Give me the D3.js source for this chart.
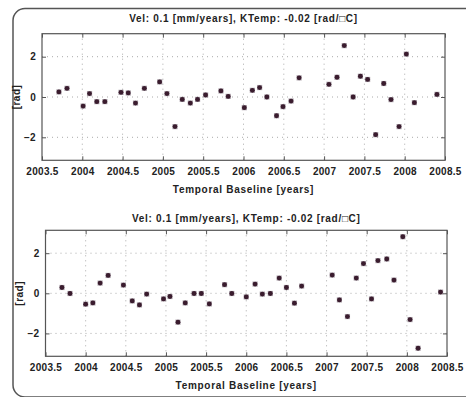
<!DOCTYPE html>
<html><head><meta charset="utf-8">
<script src="https://cdn.jsdelivr.net/npm/d3@7"></script>
<style>body{margin:0;background:#fff}svg{display:block}text{font-family:"Liberation Sans",Arial,sans-serif;font-weight:bold;fill:#222}</style>
</head><body>
<script>
const titleText = "Vel: 0.1 [mm/years], KTemp: -0.02 [rad/\u25A1C]";
const xLabelText = "Temporal Baseline [years]";
const yLabelText = "[rad]";
const xTicks = [2003.5, 2004, 2004.5, 2005, 2005.5, 2006, 2006.5, 2007, 2007.5, 2008, 2008.5];
const yTicks = [-2, 0, 2];

const years1 = [2003.71,2003.81,2004.01,2004.09,2004.18,2004.28,2004.48,2004.57,2004.66,2004.77,2004.96,2005.05,2005.15,2005.24,2005.34,2005.43,2005.53,2005.72,2005.81,2006.01,2006.11,2006.20,2006.29,2006.41,2006.49,2006.59,2006.69,2007.06,2007.16,2007.25,2007.36,2007.45,2007.54,2007.64,2007.74,2007.83,2007.93,2008.02,2008.12,2008.40];
const phase1 = [0.25,0.43,-0.45,0.17,-0.23,-0.23,0.23,0.2,-0.3,0.43,0.75,0.17,-1.47,-0.12,-0.3,-0.12,0.1,0.3,0.03,-0.53,0.33,0.47,0.0,-0.93,-0.48,-0.2,0.95,0.63,0.98,2.55,0.0,1.03,0.87,-1.87,0.67,-0.13,-1.47,2.13,-0.28,0.13];

const years2 = [2003.705,2003.805,2004.0,2004.09,2004.18,2004.28,2004.47,2004.58,2004.67,2004.76,2004.97,2005.05,2005.15,2005.24,2005.35,2005.44,2005.54,2005.73,2005.82,2006.0,2006.11,2006.20,2006.30,2006.41,2006.50,2006.60,2006.69,2007.07,2007.16,2007.26,2007.37,2007.46,2007.56,2007.64,2007.75,2007.84,2007.95,2008.04,2008.14,2008.42];
const phase2 = [0.29,-0.01,-0.54,-0.48,0.51,0.89,0.41,-0.38,-0.58,-0.04,-0.28,-0.16,-1.44,-0.48,-0.01,-0.01,-0.53,0.43,-0.01,-0.18,0.46,-0.04,-0.01,0.76,0.29,-0.49,0.36,0.91,-0.33,-1.16,0.76,1.48,-0.28,1.63,1.71,0.66,2.82,-1.31,-2.74,0.06];

const W = 466, H = 397;
const svg = d3.select("body").append("svg").attr("width", W).attr("height", H);

// outer rounded frame
svg.append("rect").attr("x", 13).attr("y", 8.5).attr("width", 480).attr("height", 388.5)
  .attr("rx", 12).attr("fill", "none").attr("stroke", "#555").attr("stroke-width", 1.5);

function panel(years, phase, xr, yr, layout) {
  const x = d3.scaleLinear().domain([2003.5, 2008.5]).range(xr);
  const y = d3.scaleLinear().domain([-Math.PI, Math.PI]).range(yr);
  const g = svg.append("g");
  // grid
  g.selectAll(".gx").data(xTicks.slice(1, -1)).join("line")
    .attr("x1", d => x(d)).attr("x2", d => x(d)).attr("y1", yr[1]).attr("y2", yr[0])
    .attr("stroke", "#aaa").attr("stroke-width", 1).attr("stroke-dasharray", "1,4");
  g.selectAll(".gy").data(yTicks).join("line")
    .attr("x1", xr[0]).attr("x2", xr[1]).attr("y1", d => y(d)).attr("y2", d => y(d))
    .attr("stroke", "#aaa").attr("stroke-width", 1).attr("stroke-dasharray", "1,4");
  // axes (ticks inside)
  const xb = d3.axisBottom(x).tickValues(xTicks).tickSizeInner(-4).tickSizeOuter(0).tickPadding(8).tickFormat(d3.format(""));
  const xt = d3.axisTop(x).tickValues(xTicks).tickSizeInner(-4).tickSizeOuter(0).tickFormat("");
  const yl = d3.axisLeft(y).tickValues(yTicks).tickSizeInner(-4).tickSizeOuter(0).tickPadding(6).tickFormat(d3.format("d"));
  const yrA = d3.axisRight(y).tickValues(yTicks).tickSizeInner(-4).tickSizeOuter(0).tickFormat("");
  const axes = [
    g.append("g").attr("transform", `translate(0,${yr[0]})`).call(xb),
    g.append("g").attr("transform", `translate(0,${yr[1]})`).call(xt),
    g.append("g").attr("transform", `translate(${xr[0]},0)`).call(yl),
    g.append("g").attr("transform", `translate(${xr[1]},0)`).call(yrA)
  ];
  axes.forEach(a => {
    a.select(".domain").remove();
    a.selectAll("line").attr("stroke", "#555");
    a.selectAll("text").style("font-size", "10px").style("letter-spacing", "0.3px").style("font-family", "Liberation Sans, Arial, sans-serif").style("font-weight", "bold").attr("fill", "#222");
  });
  // frame
  g.append("rect").attr("x", xr[0]).attr("y", yr[1]).attr("width", xr[1] - xr[0]).attr("height", yr[0] - yr[1])
    .attr("fill", "none").attr("stroke", "#555").attr("stroke-width", 1.2);
  // points
  const pts = years.map((t, i) => [t, phase[i]]);
  g.selectAll(".sq").data(pts).join("rect")
    .attr("x", d => x(d[0]) - 2.6).attr("y", d => y(d[1]) - 2.6).attr("width", 5.2).attr("height", 5.2)
    .attr("fill", "#6a5a68").attr("opacity", 0.55);
  g.selectAll(".pt").data(pts).join("circle")
    .attr("cx", d => x(d[0])).attr("cy", d => y(d[1])).attr("r", 2.4)
    .attr("fill", "#3a1c2e");
  // labels
  const cx = (xr[0] + xr[1]) / 2;
  g.append("text").attr("x", cx).attr("y", layout.titleY).attr("text-anchor", "middle")
    .style("font-size", "10px").style("letter-spacing", "0.7px").text(titleText);
  g.append("text").attr("x", cx).attr("y", layout.xlabY).attr("text-anchor", "middle")
    .style("font-size", "10px").style("letter-spacing", "0.7px").text(xLabelText);
  g.append("text").attr("transform", `translate(${layout.ylabX},${(yr[0] + yr[1]) / 2}) rotate(-90)`)
    .attr("text-anchor", "middle").style("font-size", "10px").style("letter-spacing", "0.5px").text(yLabelText);
}

panel(years1, phase1, [42, 445], [160.3, 33.7], {titleY: 22, xlabY: 193, ylabX: 20});
panel(years2, phase2, [45.5, 447], [356.3, 230.3], {titleY: 221.5, xlabY: 389, ylabX: 23});
</script>
</body></html>
